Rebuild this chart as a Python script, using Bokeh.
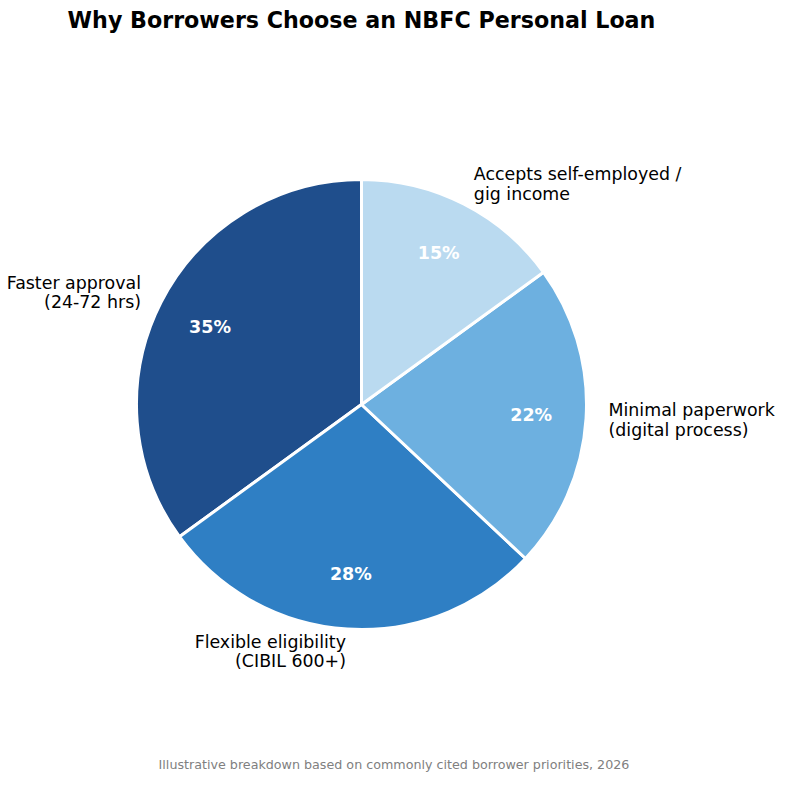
import math
from bokeh.plotting import figure
from bokeh.models import Range1d, ColumnDataSource
from bokeh.core.properties import value
from bokeh.embed import file_html
from bokeh.resources import INLINE

# ---- data ----
categories = [
    "Faster approval\n(24-72 hrs)",
    "Flexible eligibility\n(CIBIL 600+)",
    "Minimal paperwork\n(digital process)",
    "Accepts self-employed /\ngig income",
]
shares = [35, 28, 22, 15]
colors = ["#1f4e8c", "#2f7fc4", "#6db0e0", "#badaf0"]
title_text = "Why Borrowers Choose an NBFC Personal Loan"
footnote_text = "Illustrative breakdown based on commonly cited borrower priorities, 2026"

# ---- layout (pixels) ----
W, H = 776, 774
CX, CY = 361, 404      # pie centre in figure pixels (from top-left)
R = 225.0              # radius in pixels

def px(x, y):
    """figure pixel (from top-left) -> data coords (pie centre = 0, radius = 1)"""
    return (x - CX) / R, (CY - y) / R

x0, y1 = px(0, 0)
x1, y0 = px(W, H)

p = figure(width=W, height=H, output_backend="svg", toolbar_location=None,
           x_range=Range1d(x0, x1), y_range=Range1d(y0, y1),
           min_border=0, outline_line_color=None)
p.axis.visible = False
p.grid.visible = False
p.background_fill_color = "white"

total = float(sum(shares))
starts, ends, mids = [], [], []
a = math.pi / 2
for s in shares:
    span = 2 * math.pi * s / total
    starts.append(a)
    ends.append(a + span)
    mids.append(a + span / 2)
    a += span

src = ColumnDataSource(dict(start=starts, end=ends, color=colors))
p.wedge(x=0, y=0, radius=1, start_angle="start", end_angle="end",
        direction="anticlock", fill_color="color", line_color="white",
        line_width=3, source=src)

# percentage labels
pct_r = 170 / R
p.text(x=[pct_r * math.cos(m) for m in mids], y=[pct_r * math.sin(m) for m in mids],
       text=[f"{s}%" for s in shares], text_color="white",
       text_font=value("DejaVu Sans"), text_font_style="bold", text_font_size="17.5px",
       text_align="center", text_baseline="middle")

# category labels
lab_r = 1.1
for m, lab in zip(mids, categories):
    lx, ly = lab_r * math.cos(m), lab_r * math.sin(m)
    p.text(x=[lx], y=[ly], text=[lab], text_color="black",
           text_font=value("DejaVu Sans"), text_font_size="17.4px",
           text_align="left" if lx > 0 else "right", text_baseline="middle",
           text_line_height=0.96)

# title
tx, ty = px(CX, 19)
p.text(x=[tx], y=[ty], text=[title_text], text_color="black",
       text_font=value("DejaVu Sans"), text_font_style="bold", text_font_size="22.2px",
       text_align="center", text_baseline="middle")

# footnote
fx, fy = px(393.5, 764)
p.text(x=[fx], y=[fy], text=[footnote_text], text_color="#808080",
       text_font=value("DejaVu Sans"), text_font_size="12.7px",
       text_align="center", text_baseline="middle")

open("out.html", "w").write(file_html(p, INLINE))
